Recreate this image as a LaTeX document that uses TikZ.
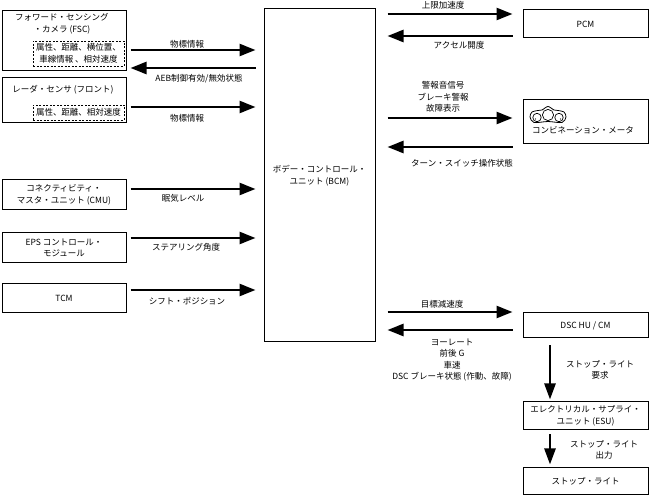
\documentclass[tikz,border=0pt]{standalone}
\usepackage{fontspec}
\setmainfont{Noto Sans CJK JP}
\usetikzlibrary{arrows.meta}
\tikzset{
  box/.style={draw, line width=1pt, inner sep=0pt, align=center},
  dbox/.style={draw, dashed, dash pattern=on 2pt off 1.5pt, line width=0.6pt, inner sep=0pt, align=center},
  lbl/.style={inner sep=0pt, align=center},
  arr/.style={line width=2.5pt, -{Triangle[length=16pt,width=12pt]}},
  darr/.style={line width=2.5pt, -{Triangle[length=16pt,width=11pt]}},
}
\begin{document}
\begin{tikzpicture}[x=1pt,y=-1pt,font=\fontsize{8.5}{11.5}\selectfont]
\useasboundingbox (0,0) rectangle (649,497);
% left boxes
\node[box, minimum width=124, minimum height=60] (fsc) at (64,41) {};
\node[lbl] (fsct) at (62,24) {フォワード・センシング\\・カメラ (FSC)};
\node[dbox, minimum width=91, minimum height=25] (fscd) at (78.5,53.5) {属性、距離、横位置、\\車線情報 、相対速度};
\node[box, minimum width=124, minimum height=45] (radar) at (64,100.5) {};
\node[lbl] (radart) at (63,90) {レーダ・センサ (フロント)};
\node[dbox, minimum width=91, minimum height=15] (radard) at (78.5,112.5) {属性、距離、相対速度};
\node[box, minimum width=124, minimum height=30] (cmu) at (64,195) {コネクティビティ・\\マスタ・ユニット (CMU)};
\node[box, minimum width=124, minimum height=30] (eps) at (64,248) {EPS コントロール・\\モジュール};
\node[box, minimum width=124, minimum height=29] (tcm) at (64,298.5) {TCM};
% BCM
\node[box, minimum width=111, minimum height=333] (bcm) at (319.5,175.5) {ボデー・コントロール・\\ユニット (BCM)};
% right boxes
\node[box, minimum width=125, minimum height=28] (pcm) at (585.5,24) {PCM};
\node[box, minimum width=125, minimum height=44] (meter) at (585.5,122) {};
\node[lbl] (metert) at (583,130) {コンビネーション・メータ};
\node[box, minimum width=125, minimum height=25] (dsc) at (585.5,325.5) {DSC HU / CM};
\node[box, minimum width=125, minimum height=28] (esu) at (585.5,416) {エレクトリカル・サプライ・\\ユニット (ESU)};
\node[box, minimum width=125, minimum height=27] (stop) at (585.5,481.5) {ストップ・ライト};
% meter icon
\draw[line width=0.8pt] plot[smooth cycle] coordinates {(530,117) (532,112) (538,110.5) (542,110) (548,106.5) (554,110) (558,110.5) (564,112) (566,117) (562,122.5) (548,121.5) (534,122.5)};
\draw[line width=0.7pt] (537,117.5) circle (4.2);
\draw[line width=0.7pt] (548,115) circle (5.6);
\draw[line width=0.7pt] (559,117.5) circle (4.2);
\fill (535.5,119) circle (0.7);
\fill (560.5,119) circle (0.7);
% left arrows
\draw[arr, shorten <=4pt, shorten >=8pt] (fsc.east |- 0,50) -- (bcm.west |- 0,50);
\draw[arr, shorten <=8pt, shorten >=4pt] (bcm.west |- 0,68) -- (fsc.east |- 0,68);
\draw[arr, shorten <=4pt, shorten >=8pt] (radar.east |- 0,107) -- (bcm.west |- 0,107);
\draw[arr, shorten <=4pt, shorten >=8pt] (cmu.east |- 0,189) -- (bcm.west |- 0,189);
\draw[arr, shorten <=4pt, shorten >=8pt] (eps.east |- 0,238) -- (bcm.west |- 0,238);
\draw[arr, shorten <=4pt, shorten >=8pt] (tcm.east |- 0,290) -- (bcm.west |- 0,290);
\node[lbl] (l1) at (187,44) {物標情報};
\node[lbl] (l2) at (199,79) {AEB制御有効/無効状態};
\node[lbl] (l3) at (187,118) {物標情報};
\node[lbl] (l4) at (183,198) {眠気レベル};
\node[lbl] (l5) at (186,247) {ステアリング角度};
\node[lbl] (l6) at (187,301) {シフト・ポジション};
% right arrows
\draw[arr, shorten <=12pt, shorten >=10pt] (bcm.east |- 0,14) -- (pcm.west |- 0,14);
\draw[arr, shorten <=10pt, shorten >=12pt] (pcm.west |- 0,36) -- (bcm.east |- 0,36);
\draw[arr, shorten <=12pt, shorten >=10pt] (bcm.east |- 0,118) -- (meter.west |- 0,118);
\draw[arr, shorten <=10pt, shorten >=12pt] (meter.west |- 0,147) -- (bcm.east |- 0,147);
\draw[arr, shorten <=12pt, shorten >=10pt] (bcm.east |- 0,312) -- (dsc.west |- 0,312);
\draw[arr, shorten <=10pt, shorten >=12pt] (dsc.west |- 0,330) -- (bcm.east |- 0,330);
\node[lbl] (r1) at (443,5) {上限加速度};
\node[lbl] (r2) at (459,45) {アクセル開度};
\node[lbl] (r3) at (443,97) {警報音信号\\ブレーキ警報\\故障表示};
\node[lbl] (r4) at (462,163) {ターン・スイッチ操作状態};
\node[lbl] (r5) at (442,304) {目標減速度};
\node[lbl] (r6) at (452,360) {ヨーレート\\前後 G\\車速\\DSC ブレーキ状態 (作動、故障)};
% down arrows
\draw[darr] ([xshift=-35.5pt,yshift=-7pt]dsc.south) -- ([xshift=-35.5pt,yshift=2pt]esu.north);
\draw[darr] ([xshift=-35.5pt,yshift=-4pt]esu.south) -- ([xshift=-35.5pt,yshift=3pt]stop.north);
\node[lbl] (d1) at (600,370) {ストップ・ライト\\要求};
\node[lbl] (d2) at (604,450) {ストップ・ライト\\出力};
\end{tikzpicture}
\end{document}
